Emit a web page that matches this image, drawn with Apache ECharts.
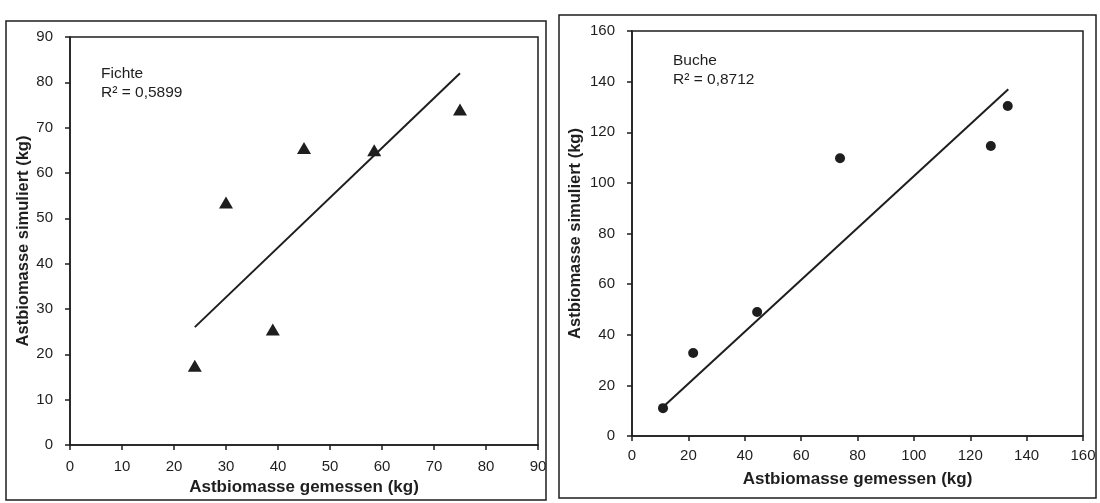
<!DOCTYPE html>
<html>
<head>
<meta charset="utf-8">
<script src="https://cdn.jsdelivr.net/npm/echarts@6/dist/echarts.min.js"></script>
<style>html,body{margin:0;padding:0;background:#fff;}#c{width:1100px;height:503px;}</style>
</head>
<body>
<div id="c"></div>
<script>
// Fichte (spruce)
const fichteMeasured = [24, 30, 39, 45, 58.5, 75];
const fichteSimulated = [17.5, 53.5, 25.5, 65.5, 65, 74];
const fichteTrendX = [24, 75];
const fichteTrendY = [26, 82];
// Buche (beech)
const bucheMeasured = [11, 21.7, 44.4, 73.8, 127.3, 133.3];
const bucheSimulated = [11, 32.8, 49, 109.7, 114.6, 130.4];
const bucheTrendX = [11, 133.5];
const bucheTrendY = [11.5, 137];

const labels = {
  fichte: ['Fichte', 'R² = 0,5899'],
  buche: ['Buche', 'R² = 0,8712'],
  xName: 'Astbiomasse gemessen (kg)',
  yName: 'Astbiomasse simuliert (kg)'
};

const ink = '#1e1e1e';
const font = '"Liberation Sans", Arial, sans-serif';
const zip = (a, b) => a.map((v, i) => [v, b[i]]);

function axisCommon(extra, margin, nameSize) {
  return Object.assign({
    type: 'value',
    splitLine: { show: false },
    axisLine: { show: true, lineStyle: { color: ink, width: 1.5 } },
    axisTick: { show: true, inside: false, length: 5, lineStyle: { color: ink, width: 1.5 } },
    axisLabel: { color: ink, fontSize: 15, fontFamily: font, margin: margin },
    nameLocation: 'middle',
    nameTextStyle: { color: ink, fontSize: nameSize, fontWeight: 'bold', fontFamily: font }
  }, extra);
}

const chart = echarts.init(document.getElementById('c'));
chart.setOption({
  backgroundColor: '#fff',
  animation: false,
  grid: [
    { left: 70, right: 562, top: 37, bottom: 58, show: true, borderColor: ink, borderWidth: 1.5, backgroundColor: 'transparent' },
    { left: 632, right: 17, top: 31, bottom: 67, show: true, borderColor: ink, borderWidth: 1.5, backgroundColor: 'transparent' }
  ],
  xAxis: [
    axisCommon({ gridIndex: 0, min: 0, max: 90, interval: 10, name: labels.xName, nameGap: 34 }, 14, 17),
    axisCommon({ gridIndex: 1, min: 0, max: 160, interval: 20, name: labels.xName, nameGap: 35 }, 12, 17)
  ],
  yAxis: [
    axisCommon({ gridIndex: 0, min: 0, max: 90, interval: 10, name: labels.yName, nameGap: 33 }, 17, 16.5),
    axisCommon({ gridIndex: 1, min: 0, max: 160, interval: 20, name: labels.yName, nameGap: 48 }, 17, 16.5)
  ],
  series: [
    { type: 'line', xAxisIndex: 0, yAxisIndex: 0, data: zip(fichteTrendX, fichteTrendY), showSymbol: false, lineStyle: { color: ink, width: 2 }, z: 2 },
    { type: 'scatter', xAxisIndex: 0, yAxisIndex: 0, data: zip(fichteMeasured, fichteSimulated), symbol: 'triangle', symbolSize: [14, 12], itemStyle: { color: ink, opacity: 1 }, z: 3 },
    { type: 'line', xAxisIndex: 1, yAxisIndex: 1, data: zip(bucheTrendX, bucheTrendY), showSymbol: false, lineStyle: { color: ink, width: 2 }, z: 2 },
    { type: 'scatter', xAxisIndex: 1, yAxisIndex: 1, data: zip(bucheMeasured, bucheSimulated), symbol: 'circle', symbolSize: 10, itemStyle: { color: ink, opacity: 1 }, z: 3 }
  ],
  graphic: [
    { type: 'rect', shape: { x: 6, y: 21, width: 540, height: 479 }, style: { fill: 'none', stroke: ink, lineWidth: 1.5 }, z: 0 },
    { type: 'rect', shape: { x: 559, y: 15, width: 537, height: 483 }, style: { fill: 'none', stroke: ink, lineWidth: 1.5 }, z: 0 },
    { type: 'text', x: 101, y: 74, style: { text: labels.fichte[0], font: '15.5px ' + font, fill: ink, verticalAlign: 'middle' } },
    { type: 'text', x: 101, y: 93, style: { text: labels.fichte[1], font: '15.5px ' + font, fill: ink, verticalAlign: 'middle' } },
    { type: 'text', x: 673, y: 61, style: { text: labels.buche[0], font: '15.5px ' + font, fill: ink, verticalAlign: 'middle' } },
    { type: 'text', x: 673, y: 80, style: { text: labels.buche[1], font: '15.5px ' + font, fill: ink, verticalAlign: 'middle' } }
  ]
});
</script>
</body>
</html>
